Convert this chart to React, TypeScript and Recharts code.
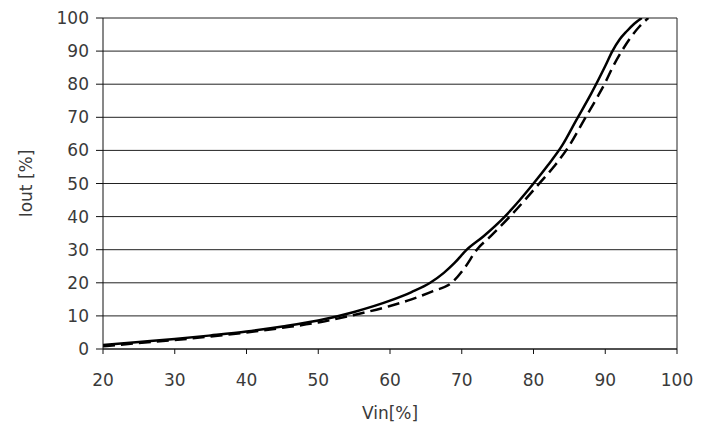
import React from 'react';
import { LineChart, Line, XAxis, YAxis, CartesianGrid, ReferenceLine } from 'recharts';

const xTicks = [20, 30, 40, 50, 60, 70, 80, 90, 100];
const yTicks = [0, 10, 20, 30, 40, 50, 60, 70, 80, 90, 100];

const solidVin = [20, 25, 30, 35, 40, 45, 50, 55, 60, 63, 65.6, 67.5, 69, 70.7, 73, 76, 78, 80, 82, 84, 86, 88, 90, 91, 92, 93, 94, 95.1];
const solidIout = [1.2, 2.1, 3.0, 4.1, 5.3, 6.8, 8.6, 11.2, 14.6, 17.2, 20, 23, 26, 30, 34, 40, 44.8, 50, 55.5, 61.5, 69.3, 77, 85.5, 90, 93.5, 96, 98.2, 100];

const dashedVin = [20, 25, 30, 35, 40, 45, 50, 55, 60, 63, 66, 68.6, 70.4, 72.1, 74, 76.7, 79, 81, 83, 85, 87, 89, 90, 91, 92.3, 93.5, 94.8, 96];
const dashedIout = [0.8, 1.8, 2.7, 3.8, 5.0, 6.4, 8.0, 10.3, 13, 15, 17.5, 20, 24.5, 30, 34, 40, 45.5, 50.5, 55.5, 61.5, 69, 76.5, 80.5, 85, 90, 94, 97.5, 100];

const solidData = solidVin.map((v, i) => ({ vin: v, iout: solidIout[i] }));
const dashedData = dashedVin.map((v, i) => ({ vin: v, iout: dashedIout[i] }));

const font = { fontFamily: 'DejaVu Sans', fontSize: 17, fill: '#3a3a3a' };

export default function App() {
  return (
    <div style={{ position: 'absolute', left: 0, top: 0 }}>
      <LineChart width={712} height={423} margin={{ top: 18, right: 35, left: 0, bottom: 0 }}>
        <CartesianGrid vertical={false} stroke="#222" strokeWidth={1} />
        <XAxis
          type="number"
          dataKey="vin"
          domain={[20, 100]}
          ticks={xTicks}
          allowDataOverflow
          height={74}
          tickSize={5}
          tickMargin={20}
          stroke="#111"
          tick={font}
          label={{ value: 'Vin[%]', position: 'insideBottom', offset: 4, style: { ...font } }}
        />
        <YAxis
          type="number"
          dataKey="iout"
          domain={[0, 100]}
          ticks={yTicks}
          allowDataOverflow
          width={103}
          tickSize={7}
          tickMargin={7}
          stroke="#111"
          tick={font}
          label={{ value: 'Iout [%]', angle: -90, position: 'insideLeft', offset: 26, style: { ...font, textAnchor: 'middle' } }}
        />
        <ReferenceLine x={100} stroke="#222" strokeWidth={1} />
        <Line data={solidData} dataKey="iout" type="monotone" stroke="#000" strokeWidth={2.5} dot={false} isAnimationActive={false} />
        <Line data={dashedData} dataKey="iout" type="monotone" stroke="#000" strokeWidth={2.5} strokeDasharray="12 6" dot={false} isAnimationActive={false} />
      </LineChart>
    </div>
  );
}
